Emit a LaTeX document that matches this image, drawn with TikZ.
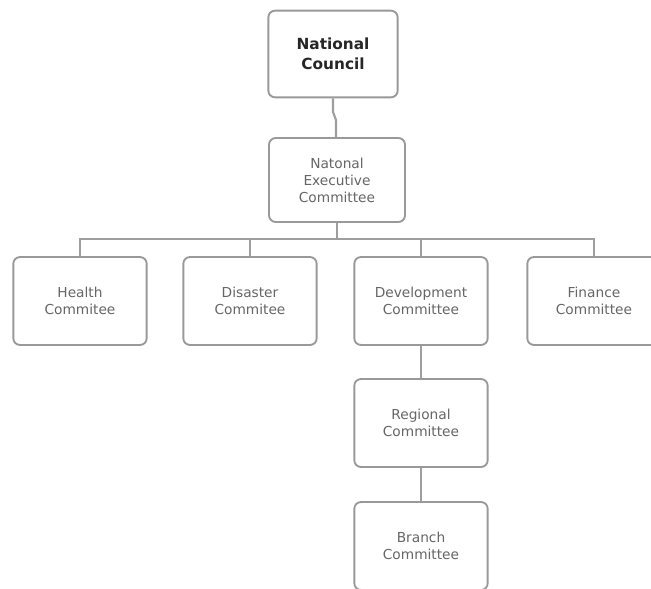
\documentclass[tikz,border=0pt]{standalone}
\usepackage{fontspec}
\setmainfont{DejaVu Sans}
\begin{document}
\begin{tikzpicture}[x=0.75pt,y=-0.75pt,
  box/.style={draw=black!40, line width=1.4pt, rounded corners=5pt, fill=white,
    align=center, text=black!60, font=\fontsize{10.3pt}{12.8pt}\selectfont,
    minimum width=100pt, minimum height=66pt, inner sep=2pt},
  link/.style={draw=black!38, line width=1.6pt}]
\useasboundingbox (0,0) rectangle (651,589);
\node[box, minimum width=97pt, minimum height=65pt, text=black!85,
  font=\bfseries\fontsize{11.5pt}{15pt}\selectfont] (nc) at (333,54) {National\\Council};
\node[box, minimum width=102pt, minimum height=63pt] (nec) at (337,180) {Natonal\\Executive\\Committee};
\node[box] (health) at (80,301) {Health\\Commitee};
\node[box] (disaster) at (250,301) {Disaster\\Commitee};
\node[box] (dev) at (421,301) {Development\\Committee};
\node[box] (fin) at (594,301) {Finance\\Committee};
\node[box] (reg) at (421,423) {Regional\\Committee};
\node[box] (branch) at (421,546) {Branch\\Committee};
\coordinate (bus) at (337,239);
\coordinate (k1) at (333,112);
\coordinate (k2) at (336,120);
\draw[link] (nc.south) -- (k1) -- (k2) -- (k2 |- nec.north);
\draw[link] (nec.south) -- (bus);
\draw[link] (health.north) |- (bus) -| (fin.north);
\draw[link] (disaster.north) -- (disaster.north |- bus);
\draw[link] (dev.north) -- (dev.north |- bus);
\draw[link] (dev.south) -- (reg.north);
\draw[link] (reg.south) -- (branch.north);
\end{tikzpicture}
\end{document}
